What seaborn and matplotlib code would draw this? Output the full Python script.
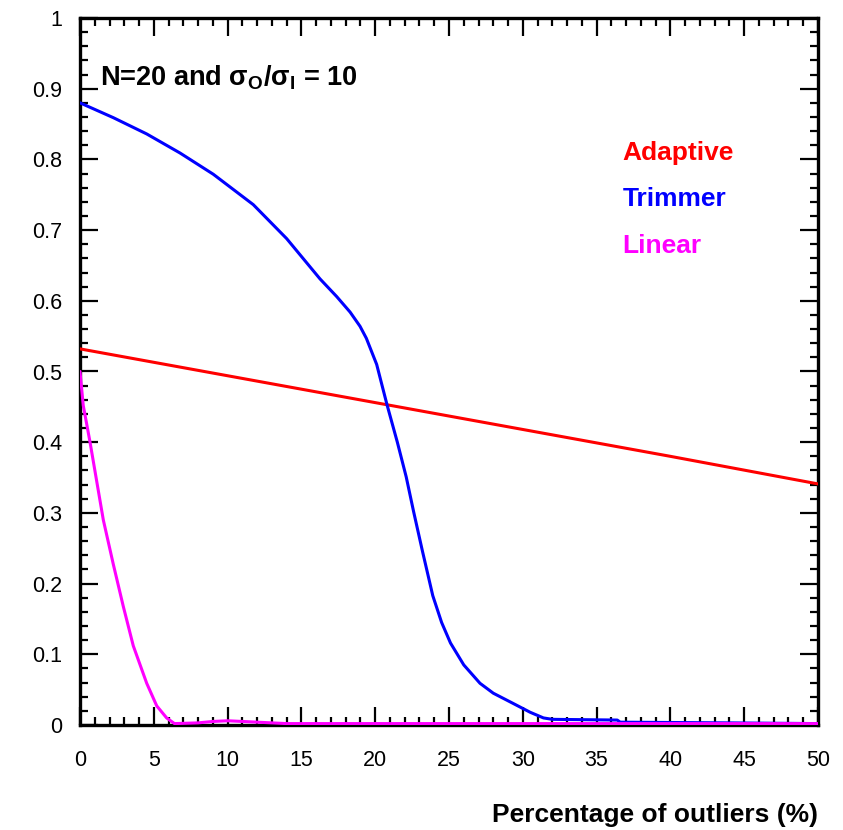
import numpy as np
import pandas as pd
import matplotlib
matplotlib.use("Agg")
import matplotlib.pyplot as plt
import seaborn as sns
from matplotlib.ticker import MultipleLocator

# ---- data ----
adaptive_x = [0, 10, 20, 30, 40, 50]
adaptive_y = [0.532, 0.494, 0.456, 0.418, 0.380, 0.341]

trimmer_x = [0, 2.26, 4.52, 6.78, 9.03, 11.74, 14.0, 16.26, 17.39, 18.3, 18.97,
             19.4, 20.1, 20.8, 21.5, 22.1, 22.6, 23.2, 23.9, 24.5, 25.1, 26.0,
             27.1, 28.0, 29.3, 30.5, 31.4, 32.0, 36.4, 36.6, 44.0, 50.0]
trimmer_y = [0.880, 0.859, 0.836, 0.809, 0.779, 0.736, 0.688, 0.631, 0.606, 0.584, 0.564,
             0.547, 0.510, 0.453, 0.400, 0.351, 0.302, 0.246, 0.183, 0.145, 0.116, 0.085,
             0.059, 0.045, 0.031, 0.018, 0.010, 0.008, 0.007, 0.004, 0.003, 0.002]

linear_x = [0, 0.22, 0.68, 1.13, 1.58, 2.26, 2.93, 3.61, 4.52, 5.2, 5.87, 6.4,
            8, 9, 10, 11, 12, 13, 14, 50]
linear_y = [0.50, 0.452, 0.400, 0.345, 0.290, 0.227, 0.168, 0.112, 0.059, 0.027, 0.010, 0.002,
            0.003, 0.005, 0.006, 0.005, 0.004, 0.003, 0.002, 0.002]

series_names = ["Adaptive", "Trimmer", "Linear"]
series_colors = ["#ff0000", "#0000ff", "#ff00ff"]

xticks = [0, 5, 10, 15, 20, 25, 30, 35, 40, 45, 50]
yticks = [0, 0.1, 0.2, 0.3, 0.4, 0.5, 0.6, 0.7, 0.8, 0.9, 1.0]
ytick_labels = ["0", "0.1", "0.2", "0.3", "0.4", "0.5", "0.6", "0.7", "0.8", "0.9", "1"]

title_text = r"N=20 and σ$_\mathrm{O}$/σ$_\mathrm{I}$ = 10"
xlabel_text = "Percentage of outliers (%)"

df = pd.concat([
    pd.DataFrame({"x": adaptive_x, "y": adaptive_y, "method": "Adaptive"}),
    pd.DataFrame({"x": trimmer_x, "y": trimmer_y, "method": "Trimmer"}),
    pd.DataFrame({"x": linear_x, "y": linear_y, "method": "Linear"}),
], ignore_index=True)

sns.set_style("ticks")
plt.rcParams["font.family"] = ["Liberation Sans", "DejaVu Sans"]
plt.rcParams["text.color"] = "black"
plt.rcParams["axes.labelcolor"] = "black"
plt.rcParams["xtick.color"] = "black"
plt.rcParams["ytick.color"] = "black"
plt.rcParams["mathtext.fontset"] = "custom"
plt.rcParams["mathtext.rm"] = "Liberation Sans:bold"
plt.rcParams["mathtext.it"] = "Liberation Sans:bold"
plt.rcParams["mathtext.bf"] = "Liberation Sans:bold"

fig = plt.figure(figsize=(8.43, 8.30), dpi=100)
ax = fig.add_axes([80 / 843, 1 - 725 / 830, (818 - 80) / 843, (725 - 18) / 830])

sns.lineplot(data=df, x="x", y="y", hue="method", hue_order=series_names,
             palette=series_colors, linewidth=2.2, ax=ax, sort=False,
             estimator=None, legend=True)
for ln in ax.get_lines():
    ln.set_zorder(3)

ax.set_xlim(0, 50)
ax.set_ylim(0, 1)
ax.set_xticks(xticks)
ax.set_yticks(yticks)
ax.set_yticklabels(ytick_labels)
ax.xaxis.set_minor_locator(MultipleLocator(1))
ax.yaxis.set_minor_locator(MultipleLocator(0.02))
ax.tick_params(axis="both", which="major", direction="in", length=13, width=1.6,
               top=True, right=True, labelsize=15.5, colors="black")
ax.tick_params(axis="both", which="minor", direction="in", length=6, width=1.6,
               top=True, right=True)
ax.tick_params(axis="x", which="major", pad=18)
ax.tick_params(axis="y", which="major", pad=13)
for s in ax.spines.values():
    s.set_visible(True)
    s.set_linewidth(2.4)
    s.set_color("black")
    s.set_zorder(2.5)

ax.set_ylabel("")
ax.set_xlabel(xlabel_text, loc="right", fontsize=19, fontweight="bold", labelpad=23)

ax.text(1.35, 0.915, title_text, fontsize=19.5, fontweight="bold", va="center", ha="left")

leg = ax.legend(loc="upper left", bbox_to_anchor=(0.703, 0.86), frameon=False,
                handlelength=0, handletextpad=0, labelcolor="linecolor",
                prop={"size": 19, "weight": "bold"}, labelspacing=0.85)
for h in leg.legend_handles:
    h.set_visible(False)

fig.savefig("out.png", dpi=100)
